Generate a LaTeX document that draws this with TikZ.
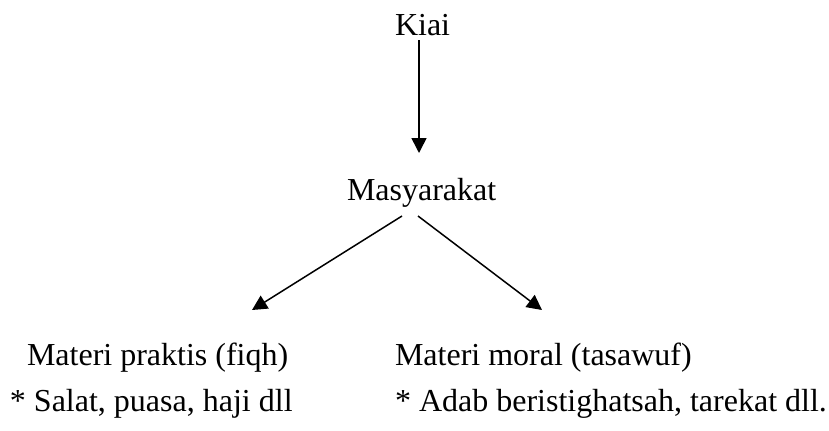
\documentclass[tikz,border=0pt]{standalone}
\usepackage{fontspec}
\setmainfont{Liberation Serif}
\usetikzlibrary{arrows.meta}
\begin{document}
\begin{tikzpicture}[x=0.5pt,y=-0.5pt,
  lbl/.style={inner sep=0pt, outer sep=0pt, anchor=base west, font=\fontsize{16pt}{19pt}\selectfont},
  arr/.style={line width=0.75pt, -{Triangle[length=7.5pt,width=7.5pt]}}]
\useasboundingbox (0,0) rectangle (829,430);
\node[lbl] (kiai) at (395,35) {Kiai};
\node[lbl] (masy) at (347,200) {Masyarakat};
\node[lbl] (mp) at (27,365) {Materi praktis (fiqh)};
\node[lbl] (mm) at (395,365) {Materi moral (tasawuf)};
\node[lbl] (sp) at (10,411) {* Salat, puasa, haji dll};
\node[lbl] (sm) at (395,411) {* Adab beristighatsah, tarekat dll.};
\coordinate (kiaiout) at (419,40);
\coordinate (masyin) at (419,153);
\coordinate (masyl) at (402,216);
\coordinate (masyr) at (418,216);
\coordinate (mpin) at (252,310);
\coordinate (mmin) at (542,310);
\draw[arr] (kiaiout) -- (masyin);
\draw[arr] (masyl) -- (mpin);
\draw[arr] (masyr) -- (mmin);
\end{tikzpicture}
\end{document}
